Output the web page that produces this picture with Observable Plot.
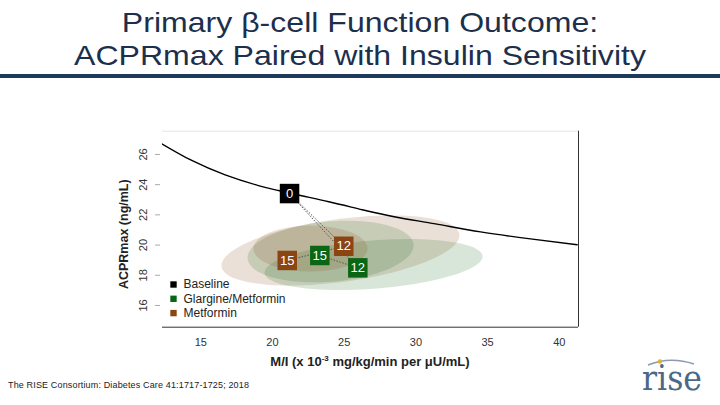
<!DOCTYPE html>
<html><head><meta charset="utf-8">
<script src="https://cdn.jsdelivr.net/npm/d3@7"></script>
<script src="https://cdn.jsdelivr.net/npm/@observablehq/plot@0.6"></script>
<style>
html,body{margin:0;padding:0;background:#fff}
body{width:720px;height:405px;position:relative;overflow:hidden;font-family:"Liberation Sans",Arial,sans-serif}
.title{position:absolute;left:0;width:720px;text-align:center;color:#1c2f4d;font-size:28px;line-height:32px;height:32px;white-space:nowrap;transform:scaleX(1.145);transform-origin:360px 50%}
#t1{top:7px}
#t2{top:39.5px}
#rule{position:absolute;left:0;top:74px;width:720px;height:4px;background:#1d3a5c}
#chart{position:absolute;left:0;top:80px}
#xlab{position:absolute;left:162px;width:416px;top:354px;text-align:center;font-weight:bold;font-size:13px;color:#222}
#xlab sup{font-size:8px;vertical-align:5px;line-height:0}
#cap{position:absolute;left:8px;top:380px;font-size:9px;color:#222;letter-spacing:0.15px}
#logo{position:absolute;left:630px;top:352px}
</style></head>
<body>
<div class="title" id="t1">Primary β-cell Function Outcome:</div>
<div class="title" id="t2">ACPRmax Paired with Insulin Sensitivity</div>
<div id="rule"></div>
<div id="chart"></div>
<div id="xlab">M/I (x 10<sup>-3</sup> mg/kg/min per μU/mL)</div>
<div id="cap">The RISE Consortium: Diabetes Care 41:1717-1725; 2018</div>
<svg id="logo" width="85" height="48">
  <path d="M18,13 Q40,4 64,12" fill="none" stroke="#8a9bb0" stroke-width="1.6"/>
  <circle cx="30" cy="9.5" r="2.3" fill="#e0b040"/>
  <text x="42" y="38" text-anchor="middle" font-family="DejaVu Serif Condensed, DejaVu Serif, serif" font-size="36" fill="#4b6886" textLength="60" lengthAdjust="spacingAndGlyphs">rise</text>
</svg>
<script>
const xDomain = [12.33, 41.34];
const yDomain = [14.56, 27.54];
const xTicks = [15, 20, 25, 30, 35, 40];
const yTicks = [16, 18, 20, 22, 24, 26];

// reference curve
const curveX = [12.28, 14.37, 16.70, 19.02, 20.42, 21.95, 23.93, 26.26, 28.58, 31.37, 34.51, 37.99, 41.25];
const curveY = [26.71, 25.60, 24.65, 23.94, 23.61, 23.28, 22.87, 22.34, 21.86, 21.40, 20.87, 20.41, 20.02];

// group means
const pointGroup = ["Baseline", "Metformin", "Metformin", "Glargine/Metformin", "Glargine/Metformin"];
const pointMonth = [0, 12, 15, 15, 12];
const pointX = [21.19, 24.97, 21.03, 23.30, 25.95];
const pointY = [23.41, 19.92, 18.98, 19.31, 18.49];
const pathFrom = [0, 0, 1, 4];
const pathTo = [1, 4, 2, 3];

// confidence ellipses: centre, half-widths, tilt
const ellipseGroup = ["Metformin", "Glargine/Metformin", "Glargine/Metformin", "Metformin"];
const ellipseCx = [24.74, 24.05, 27.05, 22.65];
const ellipseCy = [19.64, 19.57, 18.71, 19.77];
const ellipseRx = [8.30, 5.79, 7.60, 3.98];
const ellipseRy = [2.10, 2.00, 1.60, 1.52];
const ellipseTilt = [0.12, 0.07, 0.07, 0.0];

const legendLabels = ["Baseline", "Glargine/Metformin", "Metformin"];
const groupColors = {"Baseline": "#000000", "Glargine/Metformin": "#0b6613", "Metformin": "#8b4513"};

const points = pointX.map((x, i) => ({x, y: pointY[i], group: pointGroup[i], month: pointMonth[i]}));
const curve = curveX.map((x, i) => ({x, y: curveY[i]}));
const segments = pathFrom.map((f, i) => ({x1: pointX[f], y1: pointY[f], x2: pointX[pathTo[i]], y2: pointY[pathTo[i]]}));

const N = 90;
const ellipseMarks = ellipseCx.map((cx, k) => {
  const pts = d3.range(N).map(j => {
    const t = 2 * Math.PI * j / N;
    const dx = ellipseRx[k] * Math.cos(t);
    return {x: cx + dx, y: ellipseCy[k] + ellipseRy[k] * Math.sin(t) + ellipseTilt[k] * dx};
  });
  const g = ellipseGroup[k];
  return Plot.line(pts, {x: "x", y: "y", curve: "linear-closed", fill: groupColors[g], fillOpacity: g === "Metformin" ? 0.17 : 0.16, stroke: "none"});
});

const legendMarks = legendLabels.flatMap((lab, i) => [
  Plot.dot([lab], {frameAnchor: "bottom-left", dx: 11, dy: -42.7 + i * 14.3, symbol: "square", r: 3.6, fill: groupColors[lab], stroke: "none"}),
  Plot.text([lab], {frameAnchor: "bottom-left", dx: 21, dy: -42.7 + i * 14.3, text: d => d, textAnchor: "start", lineAnchor: "middle", fontSize: 12, fill: "#222"})
]);

const chart = Plot.plot({
  width: 720, height: 300,
  marginLeft: 162, marginRight: 142, marginTop: 50.7, marginBottom: 53.3,
  x: {domain: xDomain, axis: null},
  y: {domain: yDomain, axis: null},
  style: {fontFamily: "Liberation Sans, Arial, sans-serif", background: "white", overflow: "visible"},
  marks: [
    ...ellipseMarks,
    Plot.ruleY([yDomain[1]], {stroke: "#e4e4e4"}),
    Plot.ruleY([yDomain[0]], {stroke: "#333"}),
    Plot.ruleX([xDomain[1]], {stroke: "#333"}),
    Plot.axisX({ticks: xTicks, tickSize: 0, tickPadding: 11, fontSize: 11, color: "#333", label: null}),
    Plot.axisY({ticks: yTicks, tickSize: 5, dx: -2, tickFormat: () => "", stroke: "#aaa", label: null}),
    Plot.text(yTicks, {y: d => d, text: d => String(d), frameAnchor: "left", dx: -19, rotate: -90, textAnchor: "middle", lineAnchor: "middle", fontSize: 11, fill: "#333"}),
    Plot.text(["ACPRmax (ng/mL)"], {frameAnchor: "left", dx: -39, dy: 5, rotate: -90, textAnchor: "middle", lineAnchor: "middle", text: d => d, fontWeight: "bold", fontSize: 12.5, fill: "#222"}),
    Plot.line(curve, {x: "x", y: "y", curve: "natural", stroke: "#000", strokeWidth: 1.4, clip: true}),
    Plot.link(segments, {x1: "x1", y1: "y1", x2: "x2", y2: "y2", stroke: "#555", strokeWidth: 1, strokeDasharray: "1.5,1.5"}),
    Plot.dot(points, {x: "x", y: "y", symbol: "square", r: 11, fill: d => groupColors[d.group], stroke: "none"}),
    Plot.text(points, {x: "x", y: "y", text: d => String(d.month), fill: "white", fontSize: 13}),
    ...legendMarks
  ]
});
document.getElementById("chart").appendChild(chart);
</script>
</body></html>
